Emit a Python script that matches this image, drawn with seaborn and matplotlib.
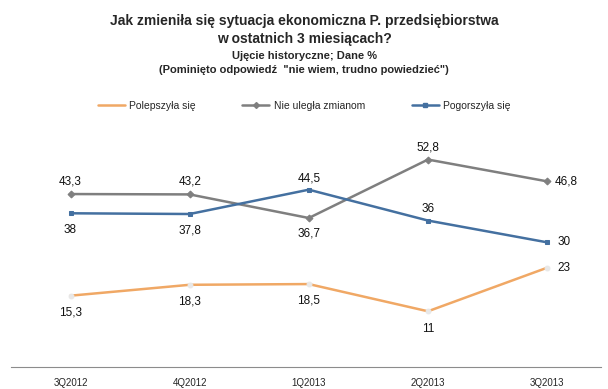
import pandas as pd
import matplotlib.pyplot as plt
import seaborn as sns

# dane
kwartaly = ['3Q2012', '4Q2012', '1Q2013', '2Q2013', '3Q2013']
polepszyla = [15.3, 18.3, 18.5, 11, 23]
nie_ulegla = [43.3, 43.2, 36.7, 52.8, 46.8]
pogorszyla = [38, 37.8, 44.5, 36, 30]
serie = ['Polepszyła się', 'Nie uległa zmianom', 'Pogorszyła się']
kolory = ['#F0A865', '#7F7F7F', '#4470A0']
markery = ['o', 'D', 's']

# etykiety: offset w punktach (dx, dy) dla każdego punktu
offsety = {
    'Polepszyła się': [(0, -12), (0, -12), (0, -12), (0, -13), (12, 0)],
    'Nie uległa zmianom': [(0, 9), (0, 9), (0, -11), (0, 9), (14, 0)],
    'Pogorszyła się': [(0, -12), (0, -12), (0, 8), (0, 8), (12, 0)],
}

df = pd.DataFrame({
    'kwartal': kwartaly * 3,
    'x': list(range(len(kwartaly))) * 3,
    'seria': [s for s in serie for _ in kwartaly],
    'wartosc': polepszyla + nie_ulegla + pogorszyla,
})

sns.set_style('white')
plt.rcParams['font.family'] = ['Liberation Sans', 'DejaVu Sans']

fig = plt.figure(figsize=(6.08, 3.89), dpi=100)
ax = fig.add_axes([0.018, 0.057, 0.97, 0.60])

for s, kol, m in zip(serie, kolory, markery):
    d = df[df['seria'] == s]
    if m == 'o':
        # pomarańczowa linia ma tylko blade punkty
        sns.lineplot(data=d, x='x', y='wartosc', color=kol, marker=m,
                     markersize=3.5, markerfacecolor='#E8E8E8',
                     markeredgecolor='#E8E8E8', linewidth=1.8, ax=ax)
    else:
        sns.lineplot(data=d, x='x', y='wartosc', color=kol, marker=m,
                     markersize=3.5, markeredgecolor=kol, linewidth=1.8, ax=ax)

for s, wartosci in zip(serie, [polepszyla, nie_ulegla, pogorszyla]):
    for i, v in enumerate(wartosci):
        dx, dy = offsety[s][i]
        ax.annotate(f'{v:g}'.replace('.', ','), (i, v), xytext=(dx, dy),
                    textcoords='offset points', ha='center', va='center',
                    fontsize=8.5, color='#111111')

ax.set_xlim(-0.5, 4.45)
ax.set_ylim(-4.3, 60)
ax.set_xticks(range(len(kwartaly)))
ax.set_xticklabels(kwartaly, fontsize=7)
ax.set_yticks([])
ax.set_xlabel('')
ax.set_ylabel('')
ax.tick_params(axis='x', length=0, pad=8)
for k in ['top', 'right', 'left']:
    ax.spines[k].set_visible(False)
ax.spines['bottom'].set_color('#8C8C8C')

# legenda
uchwyty = [plt.Line2D([], [], color=kolory[0], lw=1.8),
           plt.Line2D([], [], color=kolory[1], lw=1.8, marker='D', markersize=3),
           plt.Line2D([], [], color=kolory[2], lw=1.8, marker='s', markersize=3)]
fig.legend(uchwyty, serie, loc='center', bbox_to_anchor=(0.5, 0.728), ncol=3,
           frameon=False, fontsize=7.5, handlelength=2.6, handletextpad=0.4,
           columnspacing=4.5)

fig.text(0.5, 0.945, 'Jak zmieniła się sytuacja ekonomiczna P. przedsiębiorstwa',
         ha='center', va='center', fontsize=10, fontweight='bold')
fig.text(0.5, 0.901, 'w ostatnich 3 miesiącach?',
         ha='center', va='center', fontsize=10, fontweight='bold')
fig.text(0.5, 0.856, 'Ujęcie historyczne; Dane %',
         ha='center', va='center', fontsize=8, fontweight='bold')
fig.text(0.5, 0.82, '(Pominięto odpowiedź  "nie wiem, trudno powiedzieć")',
         ha='center', va='center', fontsize=8, fontweight='bold')

fig.savefig('out.png', dpi=100)
